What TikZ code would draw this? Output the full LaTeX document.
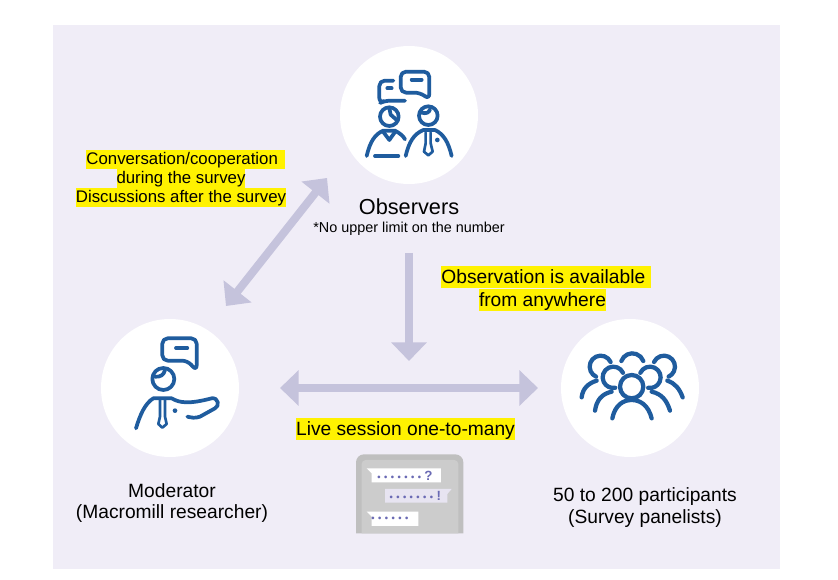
\documentclass[tikz,border=0pt]{standalone}
\usepackage{fontspec}
\setmainfont{Liberation Sans}
\usetikzlibrary{arrows.meta}
\definecolor{panelbg}{HTML}{F0EDF7}
\definecolor{arrowcol}{HTML}{C5C3DC}
\definecolor{iconblue}{HTML}{1F5C9E}
\definecolor{chatdot}{HTML}{6A6AB4}
\newcommand{\chatdotrow}[1]{\foreach \n in {1,...,#1}{•\kern2.6pt}}
\tikzset{every picture/.style={line width=0.75pt},
  bigarrow/.style={draw=arrowcol,line width=6pt,{Triangle[width=26pt,length=14pt]}-{Triangle[width=26pt,length=14pt]}},
  downarrow/.style={draw=arrowcol,line width=6pt,-{Triangle[width=26pt,length=14pt]}},
  bubble/.style={circle,fill=white,minimum size=103.5pt,inner sep=0pt},
  iconline/.style={draw=iconblue,line width=2.8pt,line cap=round,line join=round},
  crowdline/.style={iconline,line width=3.2pt},
  tieline/.style={iconline,line width=2pt},
  lbl/.style={inner sep=0pt,align=center,font=\fontsize{14.4}{16}\selectfont},
  hilite/.style={lbl,fill=yellow,text height=13pt,text depth=3.5pt},
  smallhilite/.style={hilite,font=\fontsize{12.6}{14}\selectfont,text height=11pt,text depth=3.25pt},
  chattext/.style={inner sep=0pt,text=chatdot,font=\fontsize{7}{8}\selectfont\bfseries}
}
\begin{document}
\begin{tikzpicture}[x=0.75pt,y=0.75pt,yscale=-1,xscale=1]
        \useasboundingbox (0,0) rectangle (838,580);
        %Background
        \fill [panelbg] (53,25) rectangle (780,569);

        %Circles
        \draw (409,115) node (obscircle) [bubble] {};
        \draw (170,388) node (modcircle) [bubble] {};
        \draw (630,388) node (parcircle) [bubble] {};

        %Arrow ends
        \coordinate (diagA) at (327,178);
        \coordinate (diagB) at (226,306);
        \coordinate (downA) at (409,253);
        \coordinate (downB) at (409,361);
        \coordinate (liveA) at (280,388);
        \coordinate (liveB) at (538,388);
        %Arrows
        \draw [bigarrow] (diagB) -- (diagA);
        \draw [downarrow] (downA) -- (downB);
        \draw [bigarrow] (liveA) -- (liveB);

        %Observers icon
        \begin{scope}[shift={(340,40)},scale=0.3333]
        \draw [iconline,rounded corners=4pt] (240,158) -- (182,158) -- (182,95) -- (268,95) -- (268,178) -- cycle ;
        \draw [iconline] (215,119) -- (245,119) ;
        \draw [iconline,rounded corners=4pt] (160,122) -- (118,122) -- (118,190) -- (135,182) -- (195,182) ;
        \draw [iconline] (142,145) -- (155,145) ;
        \draw [iconline] (148,230) circle (28) ;
        \draw [iconline] (148,205) -- (152,224) -- (170,240) ;
        \draw [iconline] (265,227) circle (28) ;
        \draw [iconline] (245,218) .. controls (258,222) and (268,218) .. (270,208) ;
        \draw [iconline] (80,348) .. controls (90,305) and (105,282) .. (130,272) -- (165,272) .. controls (180,280) and (190,288) .. (195,298) ;
        \draw [iconline] (130,276) -- (148,300) -- (165,276) ;
        \draw [iconline] (105,348) -- (175,348) ;
        \draw [iconline] (197,348) .. controls (207,305) and (222,282) .. (250,270) -- (285,270) .. controls (310,282) and (325,305) .. (335,348) ;
        \draw [tieline] (257,278) -- (257,310) -- (252,335) -- (265,346) -- (278,335) -- (272,310) -- (272,278) ;
        \fill [iconblue] (292,300) circle (7) ;
        \end{scope}

        %Moderator icon
        \begin{scope}[shift={(100,320)},scale=0.3333]
        \draw [iconline,rounded corners=4pt] (262,122) -- (187,122) -- (187,55) -- (290,55) -- (290,152) -- cycle ;
        \draw [iconline] (228,84) -- (262,84) ;
        \draw [iconline] (190,177) circle (33) ;
        \draw [iconline] (165,170) .. controls (180,172) and (192,165) .. (195,150) ;
        \draw [iconline] (108,325) .. controls (120,285) and (135,250) .. (160,235) -- (215,235) .. controls (240,250) and (270,252) .. (335,235) .. controls (355,232) and (360,258) .. (345,265) -- (300,290) .. controls (285,296) and (272,292) .. (262,290) ;
        \draw [tieline] (180,240) -- (180,290) -- (175,312) -- (187,323) -- (200,312) -- (195,290) -- (195,240) ;
        \fill [iconblue] (225,272) circle (7) ;
        \end{scope}

        %Participants icon
        \begin{scope}[shift={(560,320)},scale=0.3333]
        \draw [crowdline] (122,140) ++(-25:33) arc (-25:-245:33) ;
        \draw [crowdline] (217,135) ++(-160:35) arc (-160:-20:35) ;
        \draw [crowdline] (312,140) ++(-155:33) arc (-155:65:33) ;
        \draw [crowdline] (160,172) ++(-25:32) arc (-25:-280:32) ;
        \draw [crowdline] (270,172) ++(-155:32) arc (-155:100:32) ;
        \draw [crowdline] (215,200) circle (35) ;
        \draw [crowdline] (65,232) .. controls (68,205) and (85,190) .. (110,182) ;
        \draw [crowdline] (368,232) .. controls (358,205) and (345,190) .. (322,182) ;
        \draw [crowdline] (105,272) .. controls (110,240) and (125,222) .. (155,215) ;
        \draw [crowdline] (330,272) .. controls (320,240) and (305,222) .. (275,215) ;
        \draw [crowdline] (157,295) .. controls (165,255) and (190,240) .. (215,240) .. controls (240,240) and (265,255) .. (275,295) ;
        \end{scope}

        %Chat panel
        \begin{scope}[shift={(340,445)},scale=0.3333]
        \fill [fill=black!25] (48,265) [rounded corners=6pt] -- (48,28) -- (370,28) [sharp corners] -- (370,265) -- cycle ;
        \fill [fill=black!20] (65,265) [rounded corners=3pt] -- (65,45) -- (355,45) [sharp corners] -- (355,265) -- cycle ;
        \fill [white] (80,70) -- (303,70) -- (303,112) -- (95,112) -- (95,85) -- cycle ;
        \fill [panelbg!80!arrowcol] (135,132) -- (335,132) -- (322,147) -- (322,173) -- (135,173) -- cycle ;
        \fill [white] (80,200) -- (235,200) -- (235,243) -- (95,243) -- (95,215) -- cycle ;
        \draw (195,92) node (chatA) [chattext] {\chatdotrow{7}{\fontsize{10}{10}\selectfont ?}} ;
        \draw (226,152) node (chatB) [chattext] {\chatdotrow{7}{\fontsize{10}{10}\selectfont !}} ;
        \draw (155,222) node (chatC) [chattext] {\chatdotrow{6}} ;
        \end{scope}

        % Text Node
        \draw (409,207) node (obsname) [lbl,font=\fontsize{16.3}{18}\selectfont] {Observers};
        % Text Node
        \draw (409,229) node (obsnote) [lbl,font=\fontsize{10.8}{12}\selectfont] {*No upper limit on the number};
        % Text Node
        \draw (185.5,159.5) node (convA) [smallhilite] {Conversation/cooperation\kern5pt};
        % Text Node
        \draw (181,178.5) node (convB) [smallhilite] {during the survey};
        % Text Node
        \draw (181,197.5) node (convC) [smallhilite] {Discussions after the survey};
        % Text Node
        \draw (546,277.5) node (availA) [hilite] {Observation is available\kern4pt};
        % Text Node
        \draw (542.5,300) node (availB) [hilite] {from anywhere};
        % Text Node
        \draw (405.5,429) node (livelbl) [hilite] {Live session one-to-many};
        % Text Node
        \draw (172,491) node (modA) [lbl] {Moderator};
        % Text Node
        \draw (172,514) node (modB) [lbl] {(Macromill researcher)};
        % Text Node
        \draw (645,497) node (parA) [lbl] {50 to 200 participants};
        % Text Node
        \draw (645,519) node (parB) [lbl] {(Survey panelists)};

    \end{tikzpicture}
\end{document}
